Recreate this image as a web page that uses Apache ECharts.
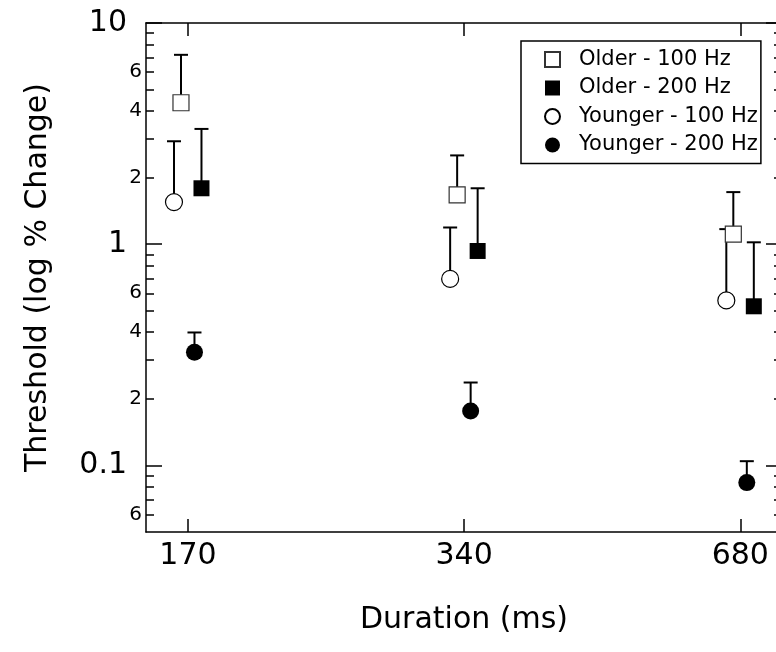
<!DOCTYPE html>
<html>
<head>
<meta charset="utf-8">
<script src="https://cdn.jsdelivr.net/npm/echarts@6/dist/echarts.min.js"></script>
<style>
html,body{margin:0;padding:0;background:#fff;}
#c{width:776px;height:652px;}
</style>
</head>
<body>
<div id="c"></div>
<script>
// ---- data ----
const durations = [170, 340, 680];
const older100 = [4.36, 1.67, 1.11];
const older100Upper = [7.18, 2.52, 1.72];
const older200 = [1.79, 0.932, 0.524];
const older200Upper = [3.32, 1.79, 1.02];
const younger100 = [1.55, 0.697, 0.557];
const younger100Upper = [2.92, 1.19, 1.17];
const younger200 = [0.325, 0.176, 0.0836];
const younger200Upper = [0.399, 0.237, 0.1045];
const seriesNames = ['Older - 100 Hz', 'Older - 200 Hz', 'Younger - 100 Hz', 'Younger - 200 Hz'];
const xTicks = [170, 340, 680];
const yMajorTicks = [0.1, 1, 10];
const yMinorTicks = [0.06, 0.07, 0.08, 0.09, 0.2, 0.3, 0.4, 0.5, 0.6, 0.7, 0.8, 0.9, 2, 3, 4, 5, 6, 7, 8, 9];
const yMinorLabels = [0.06, 0.2, 0.4, 0.6, 2, 4, 6];

// ---- styles ----
const FONT = 'DejaVu Sans';
const offsets = [-7, 13.5, -14, 6.5];
const symbols = ['rect', 'rect', 'circle', 'circle'];
const fills = ['#ffffff', '#000000', '#ffffff', '#000000'];
const means = [older100, older200, younger100, younger200];
const uppers = [older100Upper, older200Upper, younger100Upper, younger200Upper];

const chart = echarts.init(document.getElementById('c'), null, {renderer: 'canvas'});

const yBase = {type: 'log', logBase: 10, min: 0.05, max: 10, splitLine: {show: false}, minorTick: {show: false}};
const axisLine = {show: true, lineStyle: {color: '#000', width: 1.5}};

function minorFmt(v) {
  const s = Number(v).toPrecision(1);
  return s.replace(/^0\.0*/, '').replace(/\.$/, '');
}

const errData = [];
means.forEach((arr, k) => arr.forEach((m, i) => errData.push([durations[i], m, uppers[k][i], k])));

const scatterSeries = seriesNames.map((name, k) => ({
  name: name,
  type: 'scatter',
  xAxisIndex: 0, yAxisIndex: 0,
  symbol: symbols[k],
  symbolSize: k < 2 ? 16 : 17,
  symbolOffset: [offsets[k], 0],
  z: 5,
  clip: false,
  itemStyle: {color: fills[k], borderColor: k === 0 ? '#333' : '#000', borderWidth: fills[k] === '#ffffff' ? 1.2 : 0, opacity: 1},
  emphasis: {disabled: true},
  data: durations.map((d, i) => [d, means[k][i]])
}));

const option = {
  animation: false,
  backgroundColor: '#fff',
  textStyle: {fontFamily: FONT},
  grid: {left: 146, width: 636, top: 23, height: 509, containLabel: false, outerBoundsMode: 'none'},
  legend: {
    data: seriesNames,
    orient: 'vertical',
    left: 521, top: 41,
    padding: [8, 3, 8, 23],
    itemGap: 7.5,
    itemWidth: 15, itemHeight: 15,
    borderColor: '#000', borderWidth: 1.5, borderRadius: 0,
    backgroundColor: '#fff',
    textStyle: {fontFamily: FONT, fontSize: 21, color: '#000', padding: [0, 0, 0, 14]},
    selectedMode: false
  },
  xAxis: [
    {type: 'log', logBase: 2, min: 153, max: 755, position: 'bottom',
     name: 'Duration (ms)', nameLocation: 'middle', nameGap: 73,
     nameTextStyle: {fontFamily: FONT, fontSize: 30, color: '#000'},
     axisLine: axisLine, splitLine: {show: false}, minorTick: {show: false},
     axisTick: {show: true, inside: true, length: 13, customValues: xTicks, lineStyle: {color: '#000', width: 1.5}},
     axisLabel: {show: true, customValues: xTicks, margin: 9, fontFamily: FONT, fontSize: 30, color: '#000', formatter: v => String(Math.round(v))}},
    {type: 'log', logBase: 2, min: 153, max: 755, position: 'top',
     axisLine: axisLine, splitLine: {show: false}, minorTick: {show: false},
     axisTick: {show: true, inside: true, length: 13, customValues: xTicks, lineStyle: {color: '#000', width: 1.5}},
     axisLabel: {show: false}}
  ],
  yAxis: [
    Object.assign({}, yBase, {position: 'left',
      name: 'Threshold (log % Change)', nameLocation: 'middle', nameGap: 93, nameRotate: 90,
      nameTextStyle: {fontFamily: FONT, fontSize: 30, color: '#000'},
      axisLine: axisLine,
      axisTick: {show: true, inside: true, length: 16, customValues: yMajorTicks, lineStyle: {color: '#000', width: 1.5}},
      axisLabel: {show: true, customValues: yMajorTicks, margin: 19, fontFamily: FONT, fontSize: 30, color: '#000',
        formatter: v => (v >= 1 ? String(Math.round(v)) : String(v))}}),
    Object.assign({}, yBase, {position: 'left',
      axisLine: {show: false},
      axisTick: {show: true, inside: true, length: 8, customValues: yMinorTicks, lineStyle: {color: '#000', width: 1.5}},
      axisLabel: {show: true, customValues: yMinorLabels, margin: 4, fontFamily: FONT, fontSize: 20, color: '#000', formatter: minorFmt}}),
    Object.assign({}, yBase, {position: 'right',
      axisLine: axisLine,
      axisTick: {show: true, inside: true, length: 16, customValues: yMajorTicks, lineStyle: {color: '#000', width: 1.5}},
      axisLabel: {show: false}}),
    Object.assign({}, yBase, {position: 'right',
      axisLine: {show: false},
      axisTick: {show: true, inside: true, length: 8, customValues: yMinorTicks, lineStyle: {color: '#000', width: 1.5}},
      axisLabel: {show: false}})
  ],
  series: [
    {
      type: 'custom',
      xAxisIndex: 0, yAxisIndex: 0,
      z: 2,
      silent: true,
      clip: false,
      data: errData,
      encode: {x: 0, y: 1},
      renderItem: function (params, api) {
        const x = api.value(0), m = api.value(1), t = api.value(2), k = api.value(3);
        const p0 = api.coord([x, m]);
        const p1 = api.coord([x, t]);
        const dx = offsets[k];
        const st = {stroke: '#000', lineWidth: 2};
        return {type: 'group', children: [
          {type: 'line', shape: {x1: p0[0] + dx, y1: p0[1], x2: p1[0] + dx, y2: p1[1]}, style: st},
          {type: 'line', shape: {x1: p1[0] + dx - 7, y1: p1[1], x2: p1[0] + dx + 7, y2: p1[1]}, style: st}
        ]};
      }
    }
  ].concat(scatterSeries)
};
chart.setOption(option);
</script>
</body>
</html>
